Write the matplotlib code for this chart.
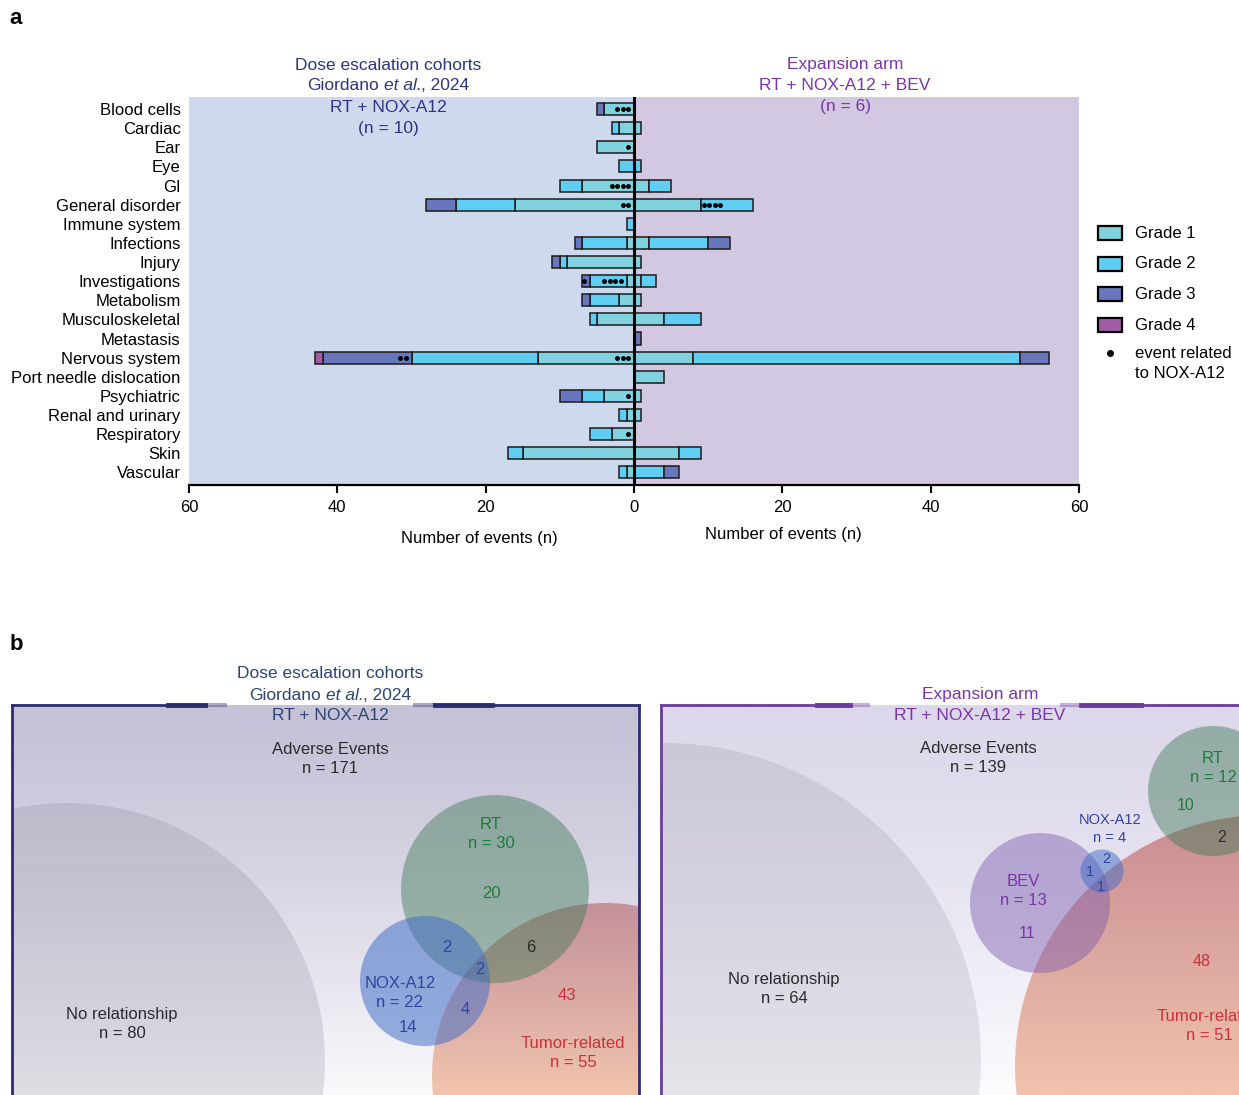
import numpy as np
import matplotlib.pyplot as plt
from matplotlib.patches import Rectangle, Circle
from matplotlib.colors import LinearSegmentedColormap

plt.rcParams['font.family'] = ['Liberation Sans', 'DejaVu Sans']

categories = ['Blood cells', 'Cardiac', 'Ear', 'Eye', 'GI', 'General disorder',
              'Immune system', 'Infections', 'Injury', 'Investigations', 'Metabolism',
              'Musculoskeletal', 'Metastasis', 'Nervous system', 'Port needle dislocation',
              'Psychiatric', 'Renal and urinary', 'Respiratory', 'Skin', 'Vascular']

# dose escalation cohorts (drawn to the left)
esc_g1 = [4, 2, 5, 0, 7, 16, 0, 1, 9, 1, 2, 5, 0, 13, 0, 4, 1, 3, 15, 1]
esc_g2 = [0, 1, 0, 2, 3, 8, 1, 6, 1, 5, 4, 1, 0, 17, 0, 3, 1, 3, 2, 1]
esc_g3 = [1, 0, 0, 0, 0, 4, 0, 1, 1, 1, 1, 0, 0, 12, 0, 3, 0, 0, 0, 0]
esc_g4 = [0, 0, 0, 0, 0, 0, 0, 0, 0, 0, 0, 0, 0, 1, 0, 0, 0, 0, 0, 0]
# events related to NOX-A12, per grade
esc_dots_g1 = [3, 0, 1, 0, 4, 2, 0, 0, 0, 0, 0, 0, 0, 3, 0, 1, 0, 1, 0, 0]
esc_dots_g2 = [0, 0, 0, 0, 0, 0, 0, 0, 0, 4, 0, 0, 0, 0, 0, 0, 0, 0, 0, 0]
esc_dots_g3 = [0, 0, 0, 0, 0, 0, 0, 0, 0, 1, 0, 0, 0, 2, 0, 0, 0, 0, 0, 0]

# expansion arm (drawn to the right)
exp_g1 = [0, 1, 0, 0, 2, 9, 0, 2, 1, 1, 1, 4, 0, 8, 4, 1, 1, 0, 6, 0]
exp_g2 = [0, 0, 0, 1, 3, 7, 0, 8, 0, 2, 0, 5, 0, 44, 0, 0, 0, 0, 3, 4]
exp_g3 = [0, 0, 0, 0, 0, 0, 0, 3, 0, 0, 0, 0, 1, 4, 0, 0, 0, 0, 0, 2]
exp_g4 = [0] * 20
exp_dots_g2 = [0, 0, 0, 0, 0, 4, 0, 0, 0, 0, 0, 0, 0, 0, 0, 0, 0, 0, 0, 0]
zeros = [0] * 20

n_patients = [10, 6]

# Venn counts, dose escalation
esc_only = [20, 14, 43]          # RT, NOX-A12, Tumor-related
esc_rt_nox, esc_rt_tum, esc_nox_tum, esc_all = 2, 6, 4, 2
esc_none = 80

# Venn counts, expansion arm
exp_only = [10, 2, 11, 48]       # RT, NOX-A12, BEV, Tumor-related
exp_rt_tum, exp_nox_bev, exp_nox_bev_tum = 2, 1, 1
exp_none = 64

grade_colors = ['#80D3DE', '#60CDF2', '#6877BD', '#A45BA6']
navy = '#2E3580'
purple = '#7A35A8'
green = '#1F7A3F'
blue = '#3342A0'
red = '#C8313C'
dark = '#2B2B2B'

fig = plt.figure(figsize=(12.39, 10.95), dpi=100)
W, H = 1239, 1095

# ---------- panel a ----------
ax = fig.add_axes([189 / W, 1 - 485 / H, 890 / W, 388 / H])
ax.axvspan(-60, 0, color='#CFD9EE', zorder=0, lw=0)
ax.axvspan(0, 60, color='#D3C8E1', zorder=0, lw=0)
y = np.arange(len(categories))


def draw_side(grades, dots, sign, off):
    start = np.zeros(len(categories))
    for g, counts in enumerate(grades):
        counts = np.array(counts, dtype=float)
        m = counts > 0
        ax.barh(y[m], sign * counts[m], left=sign * start[m], height=0.63,
                color=grade_colors[g], edgecolor='#1b1b1b', linewidth=1.1, zorder=3)
        for i in np.nonzero(dots[g])[0]:
            xs = start[i] + off + 0.75 * np.arange(dots[g][i])
            ax.plot(sign * xs, [y[i]] * len(xs), 'o', ms=2.5, color='k', zorder=4)
        start += counts


draw_side([esc_g1, esc_g2, esc_g3, esc_g4], [esc_dots_g1, esc_dots_g2, esc_dots_g3, zeros], -1, 0.75)
draw_side([exp_g1, exp_g2, exp_g3, exp_g4], [zeros, exp_dots_g2, zeros, zeros], 1, 0.4)
ax.axvline(0, color='k', lw=2.2, zorder=5)

ax.set_xlim(-60, 60)
ax.set_ylim(19.66, -0.63)
ax.set_yticks(y, categories)
ax.set_xticks([-60, -40, -20, 0, 20, 40, 60], ['60', '40', '20', '0', '20', '40', '60'])
ax.tick_params(axis='y', length=0, pad=6, labelsize=12)
ax.tick_params(axis='x', length=6, width=1.5, labelsize=12, pad=5)
for s in ['top', 'right', 'left']:
    ax.spines[s].set_visible(False)
ax.spines['bottom'].set_linewidth(1.6)

# overlay in pixel coordinates for titles, legend and panel b
ov = fig.add_axes([0, 0, 1, 1], zorder=10)
ov.patch.set_visible(False)
ov.axis('off')


def label(x, yy, s, color, size=12):
    ov.text(x, yy, s, color=color, fontsize=size, ha='center', va='center', zorder=20,
            linespacing=1.3)


def citation(x, yy, color, size=12.5):
    # "Giordano et al., 2024" with the italic part, centred on x
    t1 = ov.text(x - 81, yy, 'Giordano', color=color, fontsize=size, ha='left',
                 va='center', zorder=20)
    t2 = ov.annotate('et al.', xy=(1, 0.5), xycoords=t1, xytext=(3.5, 0),
                     textcoords='offset points', color=color, fontsize=size,
                     style='italic', ha='left', va='center', zorder=20)
    ov.annotate(', 2024', xy=(1, 0.5), xycoords=t2, color=color, fontsize=size,
                ha='left', va='center', zorder=20)


ov.text(16, 18, 'a', fontsize=16, fontweight='bold', ha='center', va='center')
ov.text(16, 645, 'b', fontsize=16, fontweight='bold', ha='center', va='center')

label(388, 65, 'Dose escalation cohorts', navy, 12.5)
citation(388, 86, navy)
label(388, 107, 'RT + NOX-A12', navy, 12.5)
label(388, 128, '(n = %d)' % n_patients[0], navy, 12.5)
label(845, 65, 'Expansion arm', purple, 12.5)
label(845, 86, 'RT + NOX-A12 + BEV', purple, 12.5)
label(845, 107, '(n = %d)' % n_patients[1], purple, 12.5)

ov.text(479, 538, 'Number of events (n)', fontsize=12, ha='center', va='center')
ov.text(783, 535, 'Number of events (n)', fontsize=12, ha='center', va='center')

# legend
for k in range(4):
    yy = 233 + 30.7 * k
    ov.add_patch(Rectangle((1098, yy - 7), 24, 14, facecolor=grade_colors[k],
                           edgecolor='k', lw=1.6))
    ov.text(1135, yy, 'Grade %d' % (k + 1), fontsize=12, ha='left', va='center')
ov.plot([1110], [353], 'o', color='k', ms=4)
ov.text(1135, 353, 'event related', fontsize=12, ha='left', va='center')
ov.text(1135, 374, 'to NOX-A12', fontsize=12, ha='left', va='center')

# ---------- panel b ----------


def gradient(extent, c_top, c_bot, clip, z, power=1.0):
    cmap = LinearSegmentedColormap.from_list('g', [c_top, c_bot])
    v = np.linspace(0, 1, 256) ** power
    im = ov.imshow(v[:, None], extent=extent, cmap=cmap, aspect='auto',
                   origin='upper', zorder=z, interpolation='bilinear')
    im.set_clip_path(clip)


def disc(cx, cy, r, color, alpha, clip, z):
    c = Circle((cx, cy), r, facecolor=color, alpha=alpha, lw=0, zorder=z)
    ov.add_patch(c)
    c.set_clip_path(clip)


def tumor_disc(cx, cy, r, x_max, c_top, c_bot, z):
    c = Circle((cx, cy), r, transform=ov.transData)
    gradient((cx - r, min(cx + r, x_max), H, cy - r), c_top, c_bot, c, z)


# left box: dose escalation
box1 = Rectangle((12, 705), 627, 400, transform=ov.transData)
gradient((12, 639, H, 705), '#C5C2D7', '#FAFAFC', box1, 1, 1.3)
disc(67, 1061, 258, '#7E7C90', 0.22, box1, 2)
tumor_disc(605, 1076, 173, 639, '#C3919A', '#F1C4AE', 3)
disc(495, 889, 94, '#3F7A56', 0.45, box1, 4)
disc(425, 981, 65, '#3F6CC8', 0.52, box1, 5)

bc = '#2E2C6E'
ov.plot([12, 12], [705, H], color=bc, lw=2, zorder=8)
ov.plot([639, 639], [705, H], color=bc, lw=2, zorder=8)
ov.plot([12, 205], [705, 705], color=bc, lw=2, zorder=8)
ov.plot([168, 205], [705, 705], color=bc, lw=3.5, zorder=8)
ov.plot([205, 225], [705, 705], color=bc, lw=3, alpha=0.4, zorder=8)
ov.plot([435, 639], [705, 705], color=bc, lw=2, zorder=8)
ov.plot([435, 492], [705, 705], color=bc, lw=3.5, zorder=8)
ov.plot([415, 435], [705, 705], color=bc, lw=3, alpha=0.4, zorder=8)

t1 = '#2D4474'
label(330, 674, 'Dose escalation cohorts', t1, 12.5)
citation(330, 695, t1)
label(330, 716, 'RT + NOX-A12', t1, 12.5)

esc_n_rt = esc_only[0] + esc_rt_nox + esc_rt_tum + esc_all
esc_n_nox = esc_only[1] + esc_rt_nox + esc_nox_tum + esc_all
esc_n_tum = esc_only[2] + esc_rt_tum + esc_nox_tum + esc_all
esc_total = esc_none + sum(esc_only) + esc_rt_nox + esc_rt_tum + esc_nox_tum + esc_all

label(330, 759, 'Adverse Events\nn = %d' % esc_total, dark)
label(491, 834, 'RT\nn = %d' % esc_n_rt, green)
label(491, 893, str(esc_only[0]), green)
label(400, 993, 'NOX-A12\nn = %d' % esc_n_nox, blue)
label(408, 1028, str(esc_only[1]), blue)
label(567, 995, str(esc_only[2]), red)
label(573, 1053, 'Tumor-related\nn = %d' % esc_n_tum, red)
label(447, 947, str(esc_rt_nox), blue)
label(480, 970, str(esc_all), blue)
label(531, 948, str(esc_rt_tum), dark)
label(465, 1010, str(esc_nox_tum), blue)
label(122, 1024, 'No relationship\nn = %d' % esc_none, dark)

# right box: expansion arm
box2 = Rectangle((661, 705), 600, 400, transform=ov.transData)
gradient((661, 1261, H, 705), '#DCD7EA', '#FCFCFE', box2, 1, 1.3)
disc(664, 1060, 317, '#7E7C90', 0.18, box2, 2)
tumor_disc(1266, 1066, 251, 1261, '#C98D92', '#F1C3AE', 3)
disc(1213, 791, 65, '#3F7A56', 0.45, box2, 4)
disc(1040, 903, 70, '#7B5BAF', 0.45, box2, 4)
disc(1102, 871, 21.5, '#3F6CC8', 0.5, box2, 5)

pc = '#6A3D9A'
ov.plot([661, 661], [705, H], color=pc, lw=2, zorder=8)
ov.plot([661, 850], [705, 705], color=pc, lw=2, zorder=8)
ov.plot([817, 850], [705, 705], color=pc, lw=3.5, zorder=8)
ov.plot([850, 868], [705, 705], color=pc, lw=3, alpha=0.4, zorder=8)
ov.plot([1081, 1239], [705, 705], color=pc, lw=2, zorder=8)
ov.plot([1081, 1141], [705, 705], color=pc, lw=3.5, zorder=8)
ov.plot([1062, 1081], [705, 705], color=pc, lw=3, alpha=0.4, zorder=8)

label(980, 695, 'Expansion arm', purple, 12.5)
label(980, 716, 'RT + NOX-A12 + BEV', purple, 12.5)

exp_n_rt = exp_only[0] + exp_rt_tum
exp_n_nox = exp_only[1] + exp_nox_bev + exp_nox_bev_tum
exp_n_bev = exp_only[2] + exp_nox_bev + exp_nox_bev_tum
exp_n_tum = exp_only[3] + exp_rt_tum + exp_nox_bev_tum
exp_total = exp_none + sum(exp_only) + exp_rt_tum + exp_nox_bev + exp_nox_bev_tum

label(978, 758, 'Adverse Events\nn = %d' % exp_total, dark)
label(1213, 768, 'RT\nn = %d' % exp_n_rt, green)
label(1186, 805, str(exp_only[0]), green, 11.5)
label(1222, 838, str(exp_rt_tum), dark, 11.5)
label(1110, 829, 'NOX-A12\nn = %d' % exp_n_nox, blue, 10.5)
label(1106, 859, str(exp_only[1]), blue, 10.5)
label(1090, 872, str(exp_nox_bev), blue, 10.5)
label(1101, 887, str(exp_nox_bev_tum), blue, 10.5)
label(1023, 891, 'BEV\nn = %d' % exp_n_bev, purple)
label(1027, 934, str(exp_only[2]), purple, 11.5)
label(1202, 962, str(exp_only[3]), red, 11.5)
label(1209, 1026, 'Tumor-related\nn = %d' % exp_n_tum, red)
label(784, 989, 'No relationship\nn = %d' % exp_none, dark)

ov.set_xlim(0, W)
ov.set_ylim(H, 0)

fig.savefig('out.png', dpi=100)
